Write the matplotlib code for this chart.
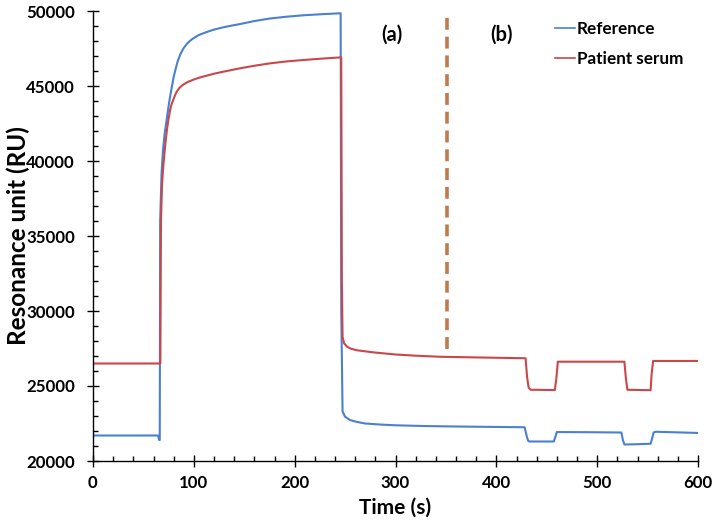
import matplotlib
matplotlib.use("Agg")
import matplotlib.pyplot as plt
from matplotlib.ticker import MultipleLocator

plt.rcParams['font.family'] = ['Lato', 'DejaVu Sans']
plt.rcParams['font.weight'] = 'bold'

# Reference series (time s, RU)
ref_t = [0, 64.5, 65.6, 66.2, 66.6, 68, 69.4, 71, 72.5, 74, 75.5, 77, 78.5, 80, 82,
         84, 86.5, 89.6, 93, 96, 99.5, 105, 112.8, 120, 129, 137, 145.8, 160, 175.5,
         192, 210, 228, 245.6, 246.2, 247.5, 250, 255, 262, 270, 285, 300, 330, 360,
         400, 428, 430, 431.5, 433, 457, 458.5, 460, 490, 524, 525.5, 527, 540, 553,
         554.5, 556, 558, 600]
ref_v = [21700, 21700, 21400, 21400, 36000, 39200, 40700, 41800, 42500, 43200, 43900,
         44500, 45050, 45600, 46150, 46650, 47100, 47500, 47800, 48000, 48180, 48400,
         48600, 48760, 48910, 49020, 49130, 49330, 49500, 49620, 49720, 49790, 49850,
         30000, 23300, 22950, 22730, 22600, 22500, 22430, 22380, 22330, 22300, 22270,
         22250, 21700, 21350, 21300, 21300, 21600, 21930, 21920, 21900, 21400, 21100,
         21120, 21150, 21500, 21900, 21950, 21870]

# Patient serum series (time s, RU)
pat_t = [0, 66.8, 67.4, 68.5, 70, 71.4, 73, 74.7, 76.5, 78, 79.7, 81.5, 83, 86,
         89.6, 94, 99.5, 105, 112.8, 120, 129, 137, 145.8, 160, 175.5, 192, 210, 228,
         246.2, 246.8, 247.5, 249, 252, 256, 262, 277, 300, 320, 344, 393, 429, 430.5,
         432, 434, 458, 459.5, 461, 495, 527, 528.5, 530, 553, 554, 555.5, 600]
pat_v = [26500, 26500, 36000, 38500, 39900, 40900, 41900, 42730, 43400, 43800, 44100,
         44400, 44620, 44900, 45100, 45270, 45420, 45550, 45690, 45820, 45950, 46060,
         46180, 46350, 46510, 46640, 46740, 46830, 46910, 32000, 28270, 27850, 27620,
         27480, 27380, 27250, 27100, 27020, 26950, 26890, 26850, 25600, 24900, 24750,
         24730, 25500, 26620, 26620, 26620, 25500, 24750, 24720, 25800, 26670, 26670]

series_labels = ["Reference", "Patient serum"]
phase_labels = ["(a)", "(b)"]
divider_t = 351
divider_range = [27470, 50000]

fig = plt.figure(figsize=(7.17, 5.24), dpi=100)
ax = fig.add_axes([93/717, 1-461/524, 605/717, 450/524])

ax.plot(ref_t, ref_v, color='#4A80D0', lw=1.5, label=series_labels[0])
ax.plot(pat_t, pat_v, color='#C9474A', lw=1.5, label=series_labels[1])

ax.plot([divider_t, divider_t], divider_range, color='#C27A4C', lw=2.6,
        linestyle=(0, (3.3, 1.9)), solid_capstyle='butt', dash_capstyle='butt')

ax.text(296, 48400, phase_labels[0], fontsize=14.5, fontweight='bold', ha='center', va='center')
ax.text(405.5, 48400, phase_labels[1], fontsize=14.5, fontweight='bold', ha='center', va='center')

ax.set_xlim(0, 600)
ax.set_ylim(20000, 50000)
ax.xaxis.set_major_locator(MultipleLocator(100))
ax.xaxis.set_minor_locator(MultipleLocator(20))
ax.yaxis.set_major_locator(MultipleLocator(5000))
ax.yaxis.set_minor_locator(MultipleLocator(1000))

for s in ['top', 'right']:
    ax.spines[s].set_visible(False)
for s in ['left', 'bottom']:
    ax.spines[s].set_linewidth(1.0)

ax.tick_params(which='major', direction='inout', length=8, width=1.0, labelsize=12.2)
ax.tick_params(which='minor', direction='in', length=3.5, width=1.0)
ax.tick_params(axis='x', which='major', pad=6)
ax.tick_params(axis='y', which='major', pad=9)
for lab in ax.get_xticklabels() + ax.get_yticklabels():
    lab.set_fontweight('bold')

ax.set_xlabel("Time (s)", fontsize=15, fontweight='bold', labelpad=5)
ax.set_ylabel("Resonance unit (RU)", fontsize=17.5, fontweight='bold')
ax.yaxis.set_label_coords(-0.104, 0.5)

leg = ax.legend(loc='upper left', bbox_to_anchor=(0.752, 0.992), frameon=False,
                fontsize=12.3, handlelength=1.2, handletextpad=0.1, labelspacing=0.82,
                borderaxespad=0)
for t in leg.get_texts():
    t.set_fontweight('bold')
for l in leg.get_lines():
    l.set_linewidth(1.2)

fig.savefig("out.png", dpi=100)
